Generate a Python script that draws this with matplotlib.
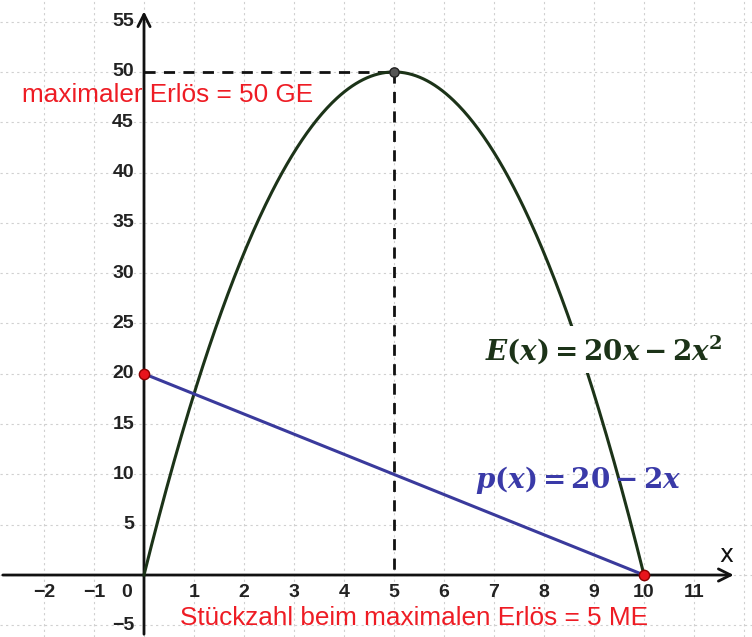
import numpy as np
import matplotlib.pyplot as plt

plt.rcParams['mathtext.fontset'] = 'dejavuserif'

# Daten
x_ticks = [-2, -1, 1, 2, 3, 4, 5, 6, 7, 8, 9, 10, 11]
y_ticks = [-5, 5, 10, 15, 20, 25, 30, 35, 40, 45, 50, 55]
a_E, b_E = 20, -2      # E(x) = 20x - 2x^2
a_p, b_p = 20, -2      # p(x) = 20 - 2x
x_max_E = 5
E_max = 50
red_pts_x = [0, 10]
red_pts_y = [20, 0]

fig = plt.figure(figsize=(7.52, 6.37), dpi=100)
ax = fig.add_axes([0, 0, 1, 1])
ax.set_xlim(-2.88, 12.16)
ax.set_ylim(-6.16, 57.15)
for s in ax.spines.values():
    s.set_visible(False)
ax.set_xticks([])
ax.set_yticks([])

# Gitter
for gx in range(-2, 13):
    ax.axvline(gx, color='#d0d0d0', lw=0.8, ls=(0, (2, 3)), zorder=0)
for gy in range(-5, 60, 5):
    ax.axhline(gy, color='#d0d0d0', lw=0.8, ls=(0, (2, 3)), zorder=0)

# Achsen mit Pfeilen
ax.annotate('', xy=(11.85, 0), xytext=(-2.88, 0),
            arrowprops=dict(arrowstyle='->', color='#111111', lw=2, mutation_scale=22))
ax.annotate('', xy=(0, 56.3), xytext=(0, -6.16),
            arrowprops=dict(arrowstyle='->', color='#111111', lw=2, mutation_scale=22))
ax.text(11.65, 0.8, 'x', fontsize=17, color='#111111', ha='center', va='bottom')

tick_font = dict(fontsize=14, fontweight='bold', color='#222222',
                 family=['Liberation Sans Narrow', 'Liberation Sans'])
for t in x_ticks:
    ax.text(t, -1.75, str(t).replace('-', '\u2212'), ha='center', va='center', **tick_font)
ax.text(-0.34, -1.75, '0', ha='center', va='center', **tick_font)
for t in y_ticks:
    ax.text(-0.2, t, str(t).replace('-', '\u2212'), ha='right', va='center', **tick_font)

# Kurven
xs = np.linspace(0, 10, 400)
ax.plot(xs, a_E * xs + b_E * xs**2, color='#1c3318', lw=2.2, zorder=3)
xl = np.array([0, 10])
ax.plot(xl, a_p + b_p * xl, color='#3a3a9c', lw=2.2, zorder=3)

# Hilfslinien
ax.plot([0, x_max_E], [E_max, E_max], color='#111111', lw=2, ls=(0, (4, 3)), zorder=2)
ax.plot([x_max_E, x_max_E], [E_max, 0], color='#111111', lw=2, ls=(0, (4, 3)), zorder=2)

# Punkte
ax.scatter([x_max_E], [E_max], s=45, color='#555555', edgecolor='#222222', zorder=5)
ax.scatter(red_pts_x, red_pts_y, s=55, color='#e8141c', edgecolor='#8a0000', zorder=5)

# Beschriftungen
ax.text(-2.44, 47.0, 'maximaler Erlös = 50 GE', fontsize=18.8, color='#ee1c24',
        ha='left', va='baseline', family='Liberation Sans', zorder=6)
ax.text(0.72, -4.95, 'Stückzahl beim maximalen Erlös = 5 ME', fontsize=18.8, color='#ee1c24',
        ha='left', va='baseline', family='Liberation Sans', zorder=6)
ax.text(9.2, 22.4, r'$\boldsymbol{E(x) = 20x - 2}\boldsymbol{x}^{\mathbf{2}}$', fontsize=20,
        color='#1c3318', ha='center', va='center', zorder=6,
        bbox=dict(facecolor='white', edgecolor='none', pad=5))
ax.text(6.62, 9.4, r'$\boldsymbol{p(x) = 20 - 2x}$', fontsize=20, color='#3a3aa8',
        ha='left', va='center', zorder=6)

fig.savefig('out.png', dpi=100)
